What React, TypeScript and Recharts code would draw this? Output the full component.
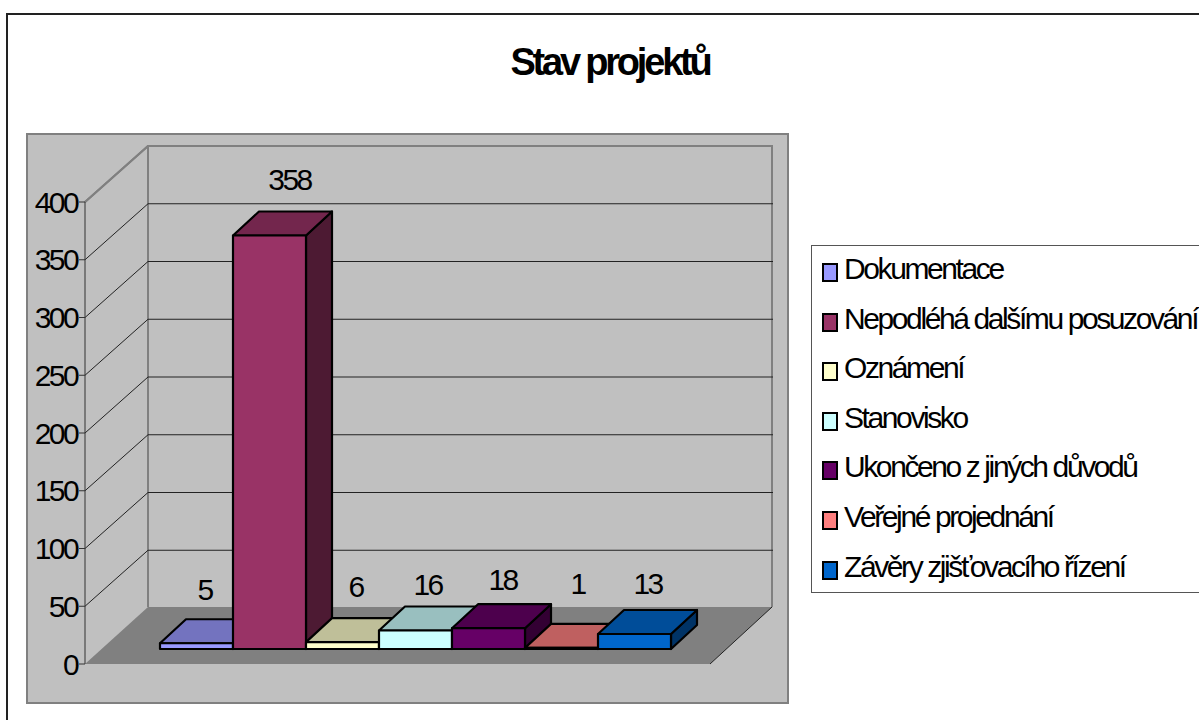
import { Bar, BarChart, CartesianGrid, Legend, XAxis, YAxis } from "recharts";

const statuses = [
  "Dokumentace",
  "Nepodléhá dalšímu posuzování",
  "Oznámení",
  "Stanovisko",
  "Ukončeno z jiných důvodů",
  "Veřejné projednání",
  "Závěry zjišťovacího řízení",
];
const counts = [5, 358, 6, 16, 18, 1, 13];
const colors = ["#9999FF", "#993366", "#FFFFCC", "#CCFFFF", "#660066", "#FF8080", "#0066CC"];
const yTicks = [0, 50, 100, 150, 200, 250, 300, 350, 400];

// Excel places these by hand, so each label gets its own nudge
const labelNudgeX = [8, 20, 13, 12, 14, 16, 13];
const labelNudgeY = [-54, -56, -56, -46, -49, -64, -50];

const row: Record<string, string | number> = { name: "Stav projektů" };
statuses.forEach((s, i) => {
  row[s] = counts[i];
});
const table = [row];

const FONT = "'Liberation Sans', Arial, sans-serif";
// wall depth of the fake 3D box
const WALL_DX = 63;
const WALL_DY = -56;
// bars stand part way into the floor
const BAR_DX = 18;
const BAR_DY = -15;
const DEPTH_DX = 26;
const DEPTH_DY = -24;

function shade(hex: string, k: number) {
  const n = parseInt(hex.slice(1), 16);
  const c = [(n >> 16) & 255, (n >> 8) & 255, n & 255].map((v) => Math.round(v * k));
  return `rgb(${c[0]},${c[1]},${c[2]})`;
}

function Bar3D(props: any) {
  const { x, y, width, height, fill } = props;
  const l = x + BAR_DX;
  const r = l + width;
  const t = y + BAR_DY;
  const b = t + height;
  const common = { stroke: "#000", strokeWidth: 2.2, strokeLinejoin: "round" as const };
  return (
    <g>
      <polygon
        points={`${r},${t} ${r + DEPTH_DX},${t + DEPTH_DY} ${r + DEPTH_DX},${b + DEPTH_DY} ${r},${b}`}
        fill={shade(fill, 0.5)}
        {...common}
      />
      <polygon
        points={`${l},${t} ${l + DEPTH_DX},${t + DEPTH_DY} ${r + DEPTH_DX},${t + DEPTH_DY} ${r},${t}`}
        fill={shade(fill, 0.75)}
        {...common}
      />
      <rect x={l} y={t} width={width} height={height} fill={fill} {...common} />
    </g>
  );
}

function barLabel(i: number) {
  return (p: any) => (
    <text
      x={p.x + BAR_DX + p.width / 2 + labelNudgeX[i]}
      y={p.y + BAR_DY + labelNudgeY[i]}
      textAnchor="middle"
      dominantBaseline="central"
      fontFamily={FONT}
      fontSize={30}
      letterSpacing={-2.6}
      fill="#000"
    >
      {p.value}
    </text>
  );
}

function gridLine(p: any) {
  const { x1, x2, y1, index } = p;
  if (y1 > 660) return <g key={index} />;
  const top = y1 < 205;
  return (
    <polyline
      key={index}
      points={`${x1},${y1} ${x1 + WALL_DX},${y1 + WALL_DY} ${x2 + WALL_DX},${y1 + WALL_DY}`}
      fill="none"
      stroke={top ? "#808080" : "#222"}
      strokeWidth={top ? 2 : 1}
    />
  );
}

function LegendBox({ payload }: any) {
  return (
    <div style={{ fontFamily: FONT, fontSize: 30, letterSpacing: -2.4, color: "#000" }}>
      {(payload ?? []).map((e: any) => (
        <div key={e.value} style={{ position: "relative", height: 49.6, whiteSpace: "nowrap" }}>
          <span
            style={{
              position: "absolute",
              left: 10,
              top: 17,
              width: 12,
              height: 15,
              background: e.color,
              border: "2px solid #000",
            }}
          />
          <span style={{ position: "absolute", left: 32, top: 6 }}>{e.value}</span>
        </div>
      ))}
    </div>
  );
}

function Backdrop() {
  return (
    <svg width={1199} height={720} style={{ position: "absolute", left: 0, top: 0 }}>
      <rect x={7} y={14} width={1300} height={800} fill="#fff" stroke="#222" strokeWidth={2} />
      <text
        x={610}
        y={75}
        textAnchor="middle"
        fontFamily={FONT}
        fontWeight="bold"
        fontSize={38}
        letterSpacing={-3.2}
      >
        Stav projektů
      </text>
      <rect x={27} y={134} width={761} height={569} fill="#C0C0C0" stroke="#808080" strokeWidth={2} />
      <polyline points="85,202 148,146 772,146 772,607" fill="none" stroke="#808080" strokeWidth={2} />
      <line x1={148} y1={146} x2={148} y2={607} stroke="#808080" strokeWidth={2} />
      <polygon points="85,664 148,607 772,607 710,664" fill="#808080" />
      <line x1={772} y1={607} x2={710} y2={664} stroke="#222" strokeWidth={1} />
    </svg>
  );
}

export default function App() {
  return (
    <div style={{ position: "absolute", left: 0, top: 0, width: 1199, height: 720, overflow: "hidden" }}>
      <Backdrop />
      <div style={{ position: "absolute", left: 0, top: 0 }}>
        <BarChart
          width={1199}
          height={720}
          data={table}
          margin={{ top: 202, right: 489, bottom: 56, left: 25 }}
          barCategoryGap={57}
          barGap={0}
        >
          <CartesianGrid vertical={false} horizontal={gridLine} />
          <XAxis dataKey="name" tick={false} tickLine={false} height={0} axisLine={{ stroke: "#222", strokeWidth: 1 }} />
          <YAxis
            domain={[0, 400]}
            ticks={yTicks}
            interval={0}
            width={60}
            tickSize={6}
            tickMargin={2}
            stroke="#333"
            tick={{ fontFamily: FONT, fontSize: 30, letterSpacing: -2.6, fill: "#000" }}
          />
          {statuses.map((s, i) => (
            <Bar
              key={s}
              dataKey={s}
              name={s}
              fill={colors[i]}
              shape={Bar3D}
              label={barLabel(i)}
              isAnimationActive={false}
            />
          ))}
          <Legend
            layout="vertical"
            align="center"
            verticalAlign="middle"
            content={<LegendBox />}
            wrapperStyle={{
              position: "absolute",
              left: 811,
              top: 245,
              width: 400,
              height: 346,
              background: "#fff",
              border: "1.5px solid #555",
            }}
          />
        </BarChart>
      </div>
    </div>
  );
}
